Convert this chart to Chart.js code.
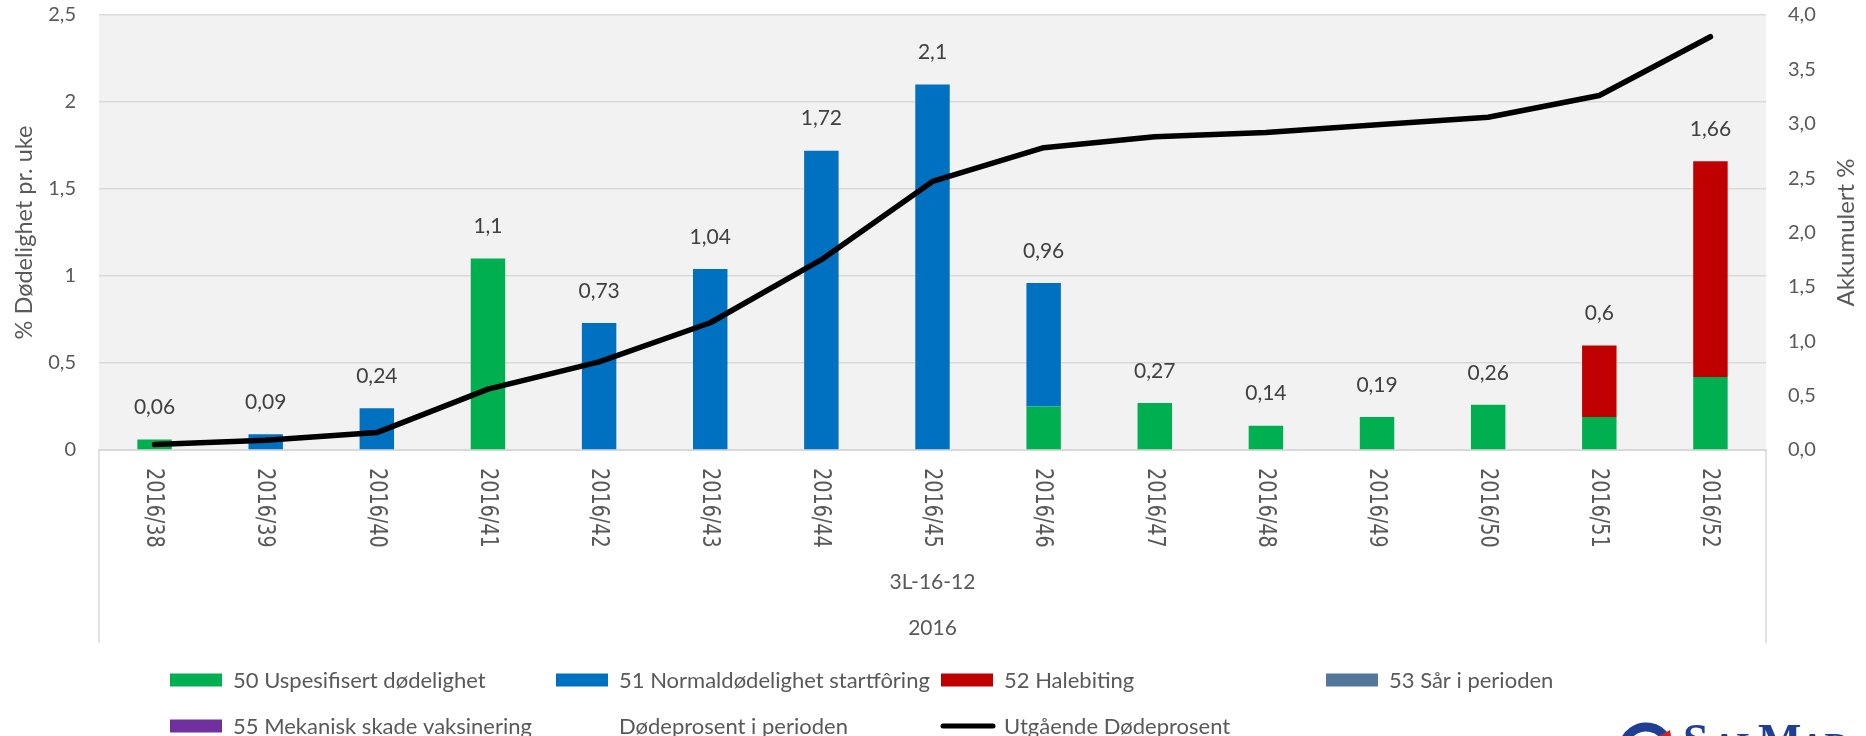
<!DOCTYPE html>
<html><head><meta charset="utf-8">
<script src="https://cdn.jsdelivr.net/npm/chart.js@4.4.0/dist/chart.umd.min.js"></script>
<style>html,body{margin:0;padding:0;background:#fff}#wrap{width:1866px;height:736px;position:relative;overflow:hidden}</style>
</head><body><div id="wrap"><canvas id="c" width="1866" height="736"></canvas></div>
<script>
// ---- data ----
const categories = ['2016/38','2016/39','2016/40','2016/41','2016/42','2016/43','2016/44','2016/45','2016/46','2016/47','2016/48','2016/49','2016/50','2016/51','2016/52'];
const groupLabel = '3L-16-12';
const yearLabel = '2016';
const uspesifisert = [0.06,0,0,1.1,0,0,0,0,0.25,0.27,0.14,0.19,0.26,0.19,0.42];
const normaldodelighet = [0,0.09,0.24,0,0.73,1.04,1.72,2.1,0.71,0,0,0,0,0,0];
const halebiting = [0,0,0,0,0,0,0,0,0,0,0,0,0,0.41,1.24];
const sarIPerioden = [0,0,0,0,0,0,0,0,0,0,0,0,0,0,0];
const mekaniskSkade = [0,0,0,0,0,0,0,0,0,0,0,0,0,0,0];
const dodeprosentPerioden = [0.06,0.09,0.24,1.1,0.73,1.04,1.72,2.1,0.96,0.27,0.14,0.19,0.26,0.6,1.66];
const utgaendeDodeprosent = [0.05,0.09,0.16,0.56,0.81,1.17,1.75,2.47,2.78,2.88,2.92,2.99,3.06,3.26,3.80];
const leftTitle = '% Dødelighet pr. uke';
const rightTitle = 'Akkumulert %';

const comma = v => String(v).replace('.', ',');
const FONT = 'Lato, "Open Sans", sans-serif';
const AREA = {left: 99, right: 1766, top: 15, bottom: 450};

const barDs = (label, data, color) => ({type:'bar', label, data, backgroundColor: color, borderWidth: 0,
  yAxisID:'y', stack:'m', order: 2, categoryPercentage: 1, barPercentage: 0.31});

const overlay = {
  id: 'overlay',
  beforeDraw(chart) {
    const {ctx, chartArea: a} = chart;
    ctx.save();
    ctx.fillStyle = '#f2f2f2';
    ctx.fillRect(a.left, a.top, a.right - a.left, a.bottom - a.top);
    ctx.restore();
  },
  afterDraw(chart) {
    const {ctx, chartArea: a, scales} = chart;
    const xs = scales.x, ys = scales.y;
    ctx.save();
    // category box side lines
    ctx.strokeStyle = '#d9d9d9'; ctx.lineWidth = 1.5;
    ctx.beginPath();
    ctx.moveTo(a.left, a.bottom); ctx.lineTo(a.left, 643);
    ctx.moveTo(a.right, a.bottom); ctx.lineTo(a.right, 643);
    ctx.stroke();
    // x tick labels, reading top to bottom
    ctx.fillStyle = '#595959';
    ctx.font = '24px "DejaVu Sans"';
    ctx.textAlign = 'left'; ctx.textBaseline = 'middle';
    categories.forEach((c, i) => {
      const x = xs.getPixelForValue(i);
      ctx.save();
      ctx.translate(x, a.bottom + 18);
      ctx.rotate(Math.PI / 2);
      ctx.scale(0.8, 1);
      ctx.fillText(c, 0, 1);
      ctx.restore();
    });
    // group labels
    ctx.font = '21px ' + FONT;
    ctx.textAlign = 'center';
    const cx = (a.left + a.right) / 2;
    ctx.fillText(groupLabel, cx, 582);
    ctx.fillText(yearLabel, cx, 628);
    // axis titles
    ctx.font = '23.5px ' + FONT;
    ctx.save(); ctx.translate(24, (a.top + a.bottom) / 2); ctx.rotate(-Math.PI / 2);
    ctx.fillText(leftTitle, 0, 0); ctx.restore();
    ctx.font = '24px ' + FONT;
    ctx.save(); ctx.translate(1846, (a.top + a.bottom) / 2); ctx.rotate(-Math.PI / 2);
    ctx.fillText(rightTitle, 0, 0); ctx.restore();
    // data labels
    ctx.fillStyle = '#404040';
    ctx.font = '21px ' + FONT;
    dodeprosentPerioden.forEach((v, i) => {
      ctx.fillText(comma(v), xs.getPixelForValue(i), ys.getPixelForValue(v) - 32);
    });
    // legend
    const cols = [170, 556, 941, 1326], rows = [680, 726];
    ctx.font = '22px ' + FONT;
    ctx.textAlign = 'left';
    chart.data.datasets.forEach((ds, k) => {
      const x = cols[k % 4], y = rows[Math.floor(k / 4)];
      if (ds.type === 'bar') {
        ctx.fillStyle = ds.backgroundColor;
        ctx.fillRect(x, y - 6.5, 52, 13);
      } else if (ds.showLine !== false) {
        ctx.strokeStyle = ds.borderColor; ctx.lineWidth = 5; ctx.lineCap = 'round';
        ctx.beginPath(); ctx.moveTo(x + 2, y); ctx.lineTo(x + 52, y); ctx.stroke();
      }
      ctx.fillStyle = '#595959';
      ctx.fillText(ds.label, x + 63, y + 1);
    });
    // logo (partially visible at bottom edge)
    ctx.strokeStyle = '#1f3f95'; ctx.lineWidth = 9; ctx.lineCap = 'butt';
    ctx.beginPath(); ctx.arc(1646, 750, 23, Math.PI * 1.05, Math.PI * 1.85); ctx.stroke();
    ctx.fillStyle = '#d0202a';
    ctx.beginPath(); ctx.moveTo(1659, 736); ctx.lineTo(1670, 730); ctx.lineTo(1671, 736); ctx.closePath(); ctx.fill();
    ctx.fillStyle = '#1f3f95';
    ctx.textBaseline = 'alphabetic';
    ctx.font = 'bold 46px "Liberation Serif"';
    ctx.fillText('S', 1683, 756);
    ctx.font = 'bold 34px "Liberation Serif"';
    ctx.fillText('AL', 1712, 756);
    ctx.font = 'bold 46px "Liberation Serif"';
    ctx.fillText('M', 1758, 756);
    ctx.font = 'bold 34px "Liberation Serif"';
    ctx.fillText('AR', 1800, 756);
    ctx.restore();
  }
};

const chart = new Chart(document.getElementById('c'), {
  data: {
    labels: categories,
    datasets: [
      barDs('50 Uspesifisert dødelighet', uspesifisert, '#00b050'),
      barDs('51 Normaldødelighet startfôring', normaldodelighet, '#0070c0'),
      barDs('52 Halebiting', halebiting, '#c00000'),
      barDs('53 Sår i perioden', sarIPerioden, '#53779a'),
      barDs('55 Mekanisk skade vaksinering', mekaniskSkade, '#7030a0'),
      {type:'line', label:'Dødeprosent i perioden', data: dodeprosentPerioden, showLine:false, pointRadius:0,
       yAxisID:'y', stack:'lbl', order: 1},
      {type:'line', label:'Utgående Dødeprosent', data: utgaendeDodeprosent, borderColor:'#000000', borderWidth:5.5,
       pointRadius:0, fill:false, tension:0, yAxisID:'y1', order: 0, borderCapStyle:'round', borderJoinStyle:'round'}
    ]
  },
  options: {
    responsive:false, animation:false, devicePixelRatio:1,
    layout:{autoPadding:false, padding:{top:AREA.top, bottom:93, left:0, right:0}},
    plugins:{legend:{display:false}, tooltip:{enabled:false}},
    scales:{
      x:{type:'category', offset:true, grid:{display:false},
         border:{display:true, color:'#d9d9d9', width:2},
         ticks:{display:false}, afterFit(s){ s.height = 193; }},
      y:{position:'left', stacked:true, min:0, max:2.5,
         ticks:{stepSize:0.5, padding:23, color:'#595959', font:{family:FONT, size:20}, callback: v => comma(v)},
         grid:{color:'#d9d9d9', lineWidth:1.5, drawTicks:false}, border:{display:false},
         afterFit(s){ s.width = AREA.left; s.paddingTop = 0; s.paddingBottom = 0; }},
      y1:{position:'right', min:0, max:4,
         ticks:{stepSize:0.5, padding:22, color:'#595959', font:{family:FONT, size:20}, callback: v => v.toFixed(1).replace('.', ',')},
         grid:{drawOnChartArea:false, drawTicks:false}, border:{display:false},
         afterFit(s){ s.width = 1866 - AREA.right; s.paddingTop = 0; s.paddingBottom = 0; }}
    }
  },
  plugins:[overlay]
});
// correct any layout drift so the plot area sits where the reference has it
const dTop = chart.chartArea.top - AREA.top;
const dBot = chart.chartArea.bottom - AREA.bottom;
if (Math.abs(dTop) > 0.5 || Math.abs(dBot) > 0.5) {
  chart.options.layout.padding.top = AREA.top - dTop;
  chart.options.layout.padding.bottom = 93 + dBot;
  chart.update();
}
</script></body></html>
